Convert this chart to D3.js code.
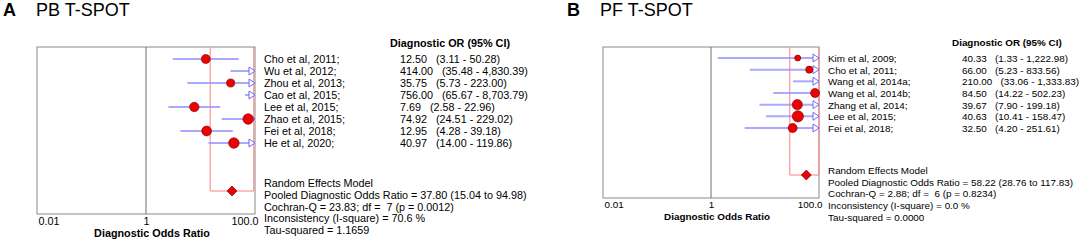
<!DOCTYPE html>
<html>
<head>
<meta charset="utf-8">
<script src="https://cdn.jsdelivr.net/npm/d3@7"></script>
<style>
  body { margin: 0; background: #fff; }
  svg { font-family: Arial, "Liberation Sans", sans-serif; }
  text { white-space: pre; }
</style>
</head>
<body>
<svg id="chart" width="1084" height="240"></svg>
<script>
// Panel A data
const studiesA = ['Cho et al, 2011;', 'Wu et al, 2012;', 'Zhou et al, 2013;', 'Cao et al, 2015;',
  'Lee et al, 2015;', 'Zhao et al, 2015;', 'Fei et al, 2018;', 'He et al, 2020;']
const orA = [12.50, 414.00, 35.75, 756.00, 7.69, 74.92, 12.95, 40.97]
const lowA = [3.11, 35.48, 5.73, 65.67, 2.58, 24.51, 4.28, 14.00]
const highA = [50.28, 4830.39, 223.00, 8703.79, 22.96, 229.02, 39.18, 119.86]
const weightA = [11, 7, 9, 6, 12, 15, 13, 15]
const pooledA = [37.80, 15.04, 94.98]
const statsA = ['Random Effects Model',
  'Pooled Diagnostic Odds Ratio = 37.80 (15.04 to 94.98)',
  'Cochran-Q = 23.83; df =  7 (p = 0.0012)',
  'Inconsistency (I-square) = 70.6 %',
  'Tau-squared = 1.1659']

// Panel B data
const studiesB = ['Kim et al, 2009;', 'Cho et al, 2011;', 'Wang et al, 2014a;', 'Wang et al, 2014b;',
  'Zhang et al, 2014;', 'Lee et al, 2015;', 'Fei et al, 2018;']
const orB = [40.33, 66.00, 210.00, 84.50, 39.67, 40.63, 32.50]
const lowB = [1.33, 5.23, 33.06, 14.22, 7.90, 10.41, 4.20]
const highB = [1222.98, 833.56, 1333.83, 502.23, 199.18, 158.47, 251.61]
const weightB = [5, 7, 8, 11, 14, 17, 11]
const pooledB = [58.22, 28.76, 117.83]
const statsB = ['Random Effects Model',
  'Pooled Diagnostic Odds Ratio = 58.22 (28.76 to 117.83)',
  'Cochran-Q = 2.88; df =  6 (p = 0.8234)',
  'Inconsistency (I-square) = 0.0 %',
  'Tau-squared = 0.0000']

const tickValues = [0.01, 1, 100]
const tickLabels = ['0.01', '1', '100.0']

const svg = d3.select('#chart')
const fmt = d3.format(',.2f')
const rScale = d3.scaleSqrt().domain([0, 10]).range([0, 4.3])

const drawPanel = p => {
  const g = svg.append('g')
  const fs = p.fontSize
  const x = d3.scaleLog().domain([0.01, 100]).range([p.left, p.right])
  const y = d3.scalePoint().domain(p.studies).range([p.rowTop, p.rowBottom])
  const maxX = 100, minX = 0.01
  const cx = v => x(Math.max(minX, Math.min(maxX, v)))

  // title
  g.append('text').attr('x', p.letterX).attr('y', 16)
    .attr('font-size', 18).attr('font-weight', 'bold').text(p.letter)
  g.append('text').attr('x', p.letterX + 33).attr('y', 16)
    .attr('font-size', 18).text(p.title)

  // frame
  g.append('rect').attr('x', p.left).attr('y', p.top)
    .attr('width', p.right - p.left).attr('height', p.bottom - p.top)
    .attr('fill', 'none').attr('stroke', '#8a8a8a')
  g.append('line').attr('x1', x(1)).attr('x2', x(1))
    .attr('y1', p.top).attr('y2', p.bottom).attr('stroke', '#707070')

  // pooled box
  g.append('path')
    .attr('d', `M${cx(p.pooled[1])},${p.top}V${p.pooledY}H${cx(p.pooled[2])}V${p.top}`)
    .attr('fill', 'none').attr('stroke', '#ff8080')

  // CI lines
  p.studies.forEach((s, i) => {
    const yy = y(s)
    const x1 = cx(p.low[i]), x2 = cx(p.high[i])
    const arrow = p.high[i] > maxX
    g.append('line').attr('x1', x1).attr('x2', arrow ? x2 - 6 : x2)
      .attr('y1', yy).attr('y2', yy)
      .attr('stroke', '#9494ff').attr('stroke-opacity', 0.8).attr('stroke-width', 2)
    if (arrow) {
      g.append('path')
        .attr('d', `M${x2 - 6},${yy - 4}L${x2},${yy}L${x2 - 6},${yy + 4}Z`)
        .attr('fill', '#fff').attr('stroke', '#6a6aff').attr('stroke-width', 1)
    }
  })

  // points
  p.studies.forEach((s, i) => {
    if (p.or[i] > maxX) return
    g.append('circle').attr('cx', x(p.or[i])).attr('cy', y(s))
      .attr('r', rScale(p.weight[i]))
      .attr('fill', '#f00000').attr('stroke', '#6b0000').attr('stroke-width', 0.6)
  })

  // diamond
  const dx = x(p.pooled[0])
  g.append('path')
    .attr('d', `M${dx - 5},${p.pooledY}L${dx},${p.pooledY - 5}L${dx + 5},${p.pooledY}L${dx},${p.pooledY + 5}Z`)
    .attr('fill', '#f00000').attr('stroke', '#500000').attr('stroke-width', 0.6)

  // axis
  const axis = d3.axisBottom(x).tickValues(tickValues)
    .tickFormat((d, i) => tickLabels[i]).tickSize(0).tickPadding(0)
  const ax = g.append('g').attr('transform', `translate(0,${p.bottom})`).call(axis)
  ax.select('.domain').remove()
  ax.selectAll('text').attr('font-size', fs).attr('font-family', null)
    .attr('fill', '#000').attr('dy', null).attr('y', p.tickY - p.bottom)
    .attr('text-anchor', (d, i) => i === 0 ? 'start' : i === 2 ? 'end' : 'middle')
    .attr('dx', (d, i) => i === 0 ? 1 : i === 2 ? 3 : 0)
  g.append('text').attr('x', (p.left + p.right) / 2 + 6).attr('y', p.tickY + 12)
    .attr('text-anchor', 'middle').attr('font-size', fs).attr('font-weight', 'bold')
    .text('Diagnostic Odds Ratio')

  // text table
  g.append('text').attr('x', p.headerX).attr('y', p.rowTop - 12)
    .attr('font-size', fs).attr('font-weight', 'bold').text('Diagnostic OR (95% CI)')
  p.studies.forEach((s, i) => {
    g.append('text').attr('x', p.labelX).attr('y', y(s) + 4).attr('font-size', fs).text(s)
    g.append('text').attr('x', p.valueX).attr('y', y(s) + 4).attr('font-size', fs)
      .text(`${fmt(p.or[i])}   (${fmt(p.low[i])} - ${fmt(p.high[i])})`)
  })
  p.stats.forEach((s, i) => {
    g.append('text').attr('x', p.labelX).attr('y', p.statsY + i * p.statsStep + 4)
      .attr('font-size', fs).text(s)
  })
}

drawPanel({
  letter: 'A', title: 'PB T-SPOT', letterX: 3, fontSize: 10.8,
  studies: studiesA, or: orA, low: lowA, high: highA, weight: weightA,
  pooled: pooledA, stats: statsA,
  left: 37, right: 255, top: 47, bottom: 214,
  rowTop: 59, rowBottom: 143, pooledY: 191, tickY: 225,
  labelX: 264, valueX: 400, headerX: 390, statsY: 183, statsStep: 11.8
})

drawPanel({
  letter: 'B', title: 'PF T-SPOT', letterX: 567, fontSize: 9.9,
  studies: studiesB, or: orB, low: lowB, high: highB, weight: weightB,
  pooled: pooledB, stats: statsB,
  left: 603, right: 819, top: 47, bottom: 198,
  rowTop: 58, rowBottom: 128, pooledY: 175, tickY: 208,
  labelX: 828, valueX: 962, headerX: 952, statsY: 170, statsStep: 11.7
})
</script>
</body>
</html>
